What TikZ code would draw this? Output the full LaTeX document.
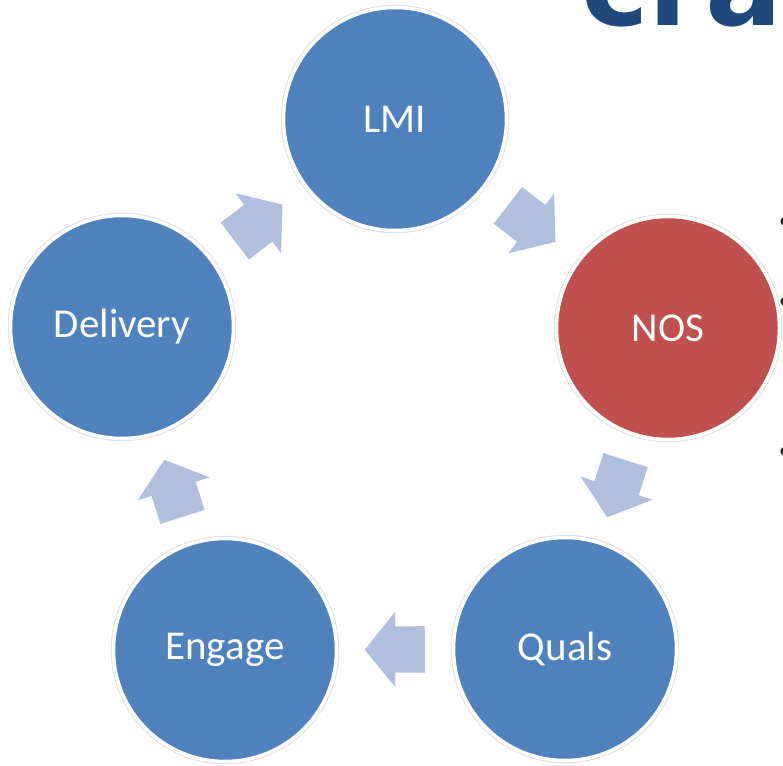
\documentclass[tikz,border=0pt]{standalone}
\usepackage{fontspec}
\setmainfont{Carlito}
\newfontfamily\titlefont{DejaVu Sans}
\newfontfamily\dotfont{Liberation Sans}
\usetikzlibrary{calc,shapes.arrows}
\definecolor{stageblue}{RGB}{79,129,189}
\definecolor{stagered}{RGB}{192,80,77}
\definecolor{flowgray}{RGB}{176,191,221}
\definecolor{titleblue}{RGB}{31,73,125}

\begin{document}
\begin{tikzpicture}[x=1pt,y=-1pt,
		stage/.style={circle, fill=stageblue, draw=white, line width=3.5pt, minimum size=223pt, inner sep=0pt, text=white, font=\fontsize{41}{48}\selectfont, preaction={draw=black!12, line width=5.5pt}},
		flow/.style={single arrow, fill=flowgray, draw=none, minimum height=60pt, inner xsep=0pt, inner ysep=23pt, single arrow head extend=14.5pt, single arrow tip angle=102, anchor=tail}]
	\useasboundingbox (0,0) rectangle (783,765);
	\clip (0,0) rectangle (783,765);
	
	% slide title, cut off by the frame
	\node[anchor=base west, inner sep=0pt, text=titleblue, font=\titlefont\bfseries\fontsize{114}{114}\selectfont] (title) at (581,26) {cra};
	\foreach \y [count=\i] in {225,305,455}
	\node[inner sep=0pt, text=black!85, font=\dotfont\fontsize{32}{32}\selectfont] (dot\i) at (785,\y) {\textbullet};
	
	% cycle
	\node[stage] (lmi) at (395,119) {LMI};
	\node[stage, fill=stagered] (nos) at (668,328) {NOS};
	\node[stage] (quals) at (565,649) {Quals};
	\node[stage] (engage) at (225,650) {Engage};
	\node[stage] (delivery) at (122,327) {Delivery};
	
	\foreach \a/\b [count=\i] in {lmi/nos, nos/quals, quals/engage, engage/delivery, delivery/lmi}
	\path let \p1=($(\b)-(\a)$), \n1={atan2(\y1,\x1)} in
	node[flow, rotate=\n1] (flow\i) at ($(\a)!0.5!(\b)!-30pt!(\b)$) {};
\end{tikzpicture}
\end{document}
